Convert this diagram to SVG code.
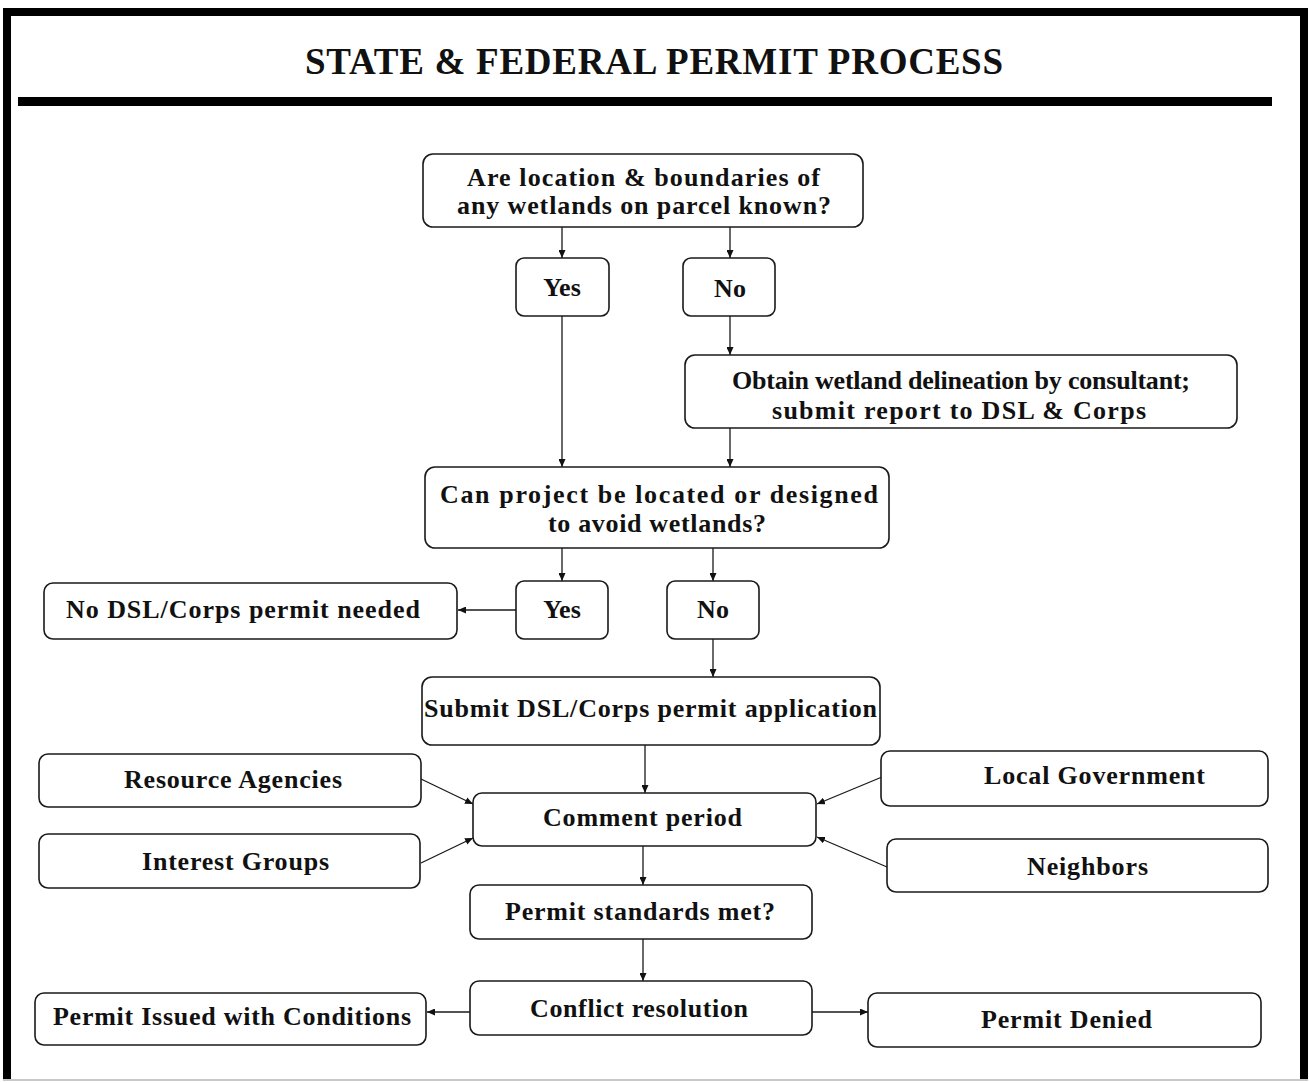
<svg xmlns="http://www.w3.org/2000/svg" width="1309" height="1083" viewBox="0 0 1309 1083">
<defs>
<style>
.box{fill:#fff;stroke:#1a1a1a;stroke-width:1.6}
.t{font-family:"Liberation Serif","Times New Roman",serif;font-weight:bold;font-size:26px;fill:#111}
.m{text-anchor:middle}
.title{font-family:"Liberation Serif","Times New Roman",serif;font-weight:bold;font-size:37px;fill:#111}
.c{fill:none;stroke:#1a1a1a;stroke-width:1.3;marker-end:url(#ah)}
</style>
<marker id="ah" viewBox="0 0 8 7" refX="8" refY="3.5" markerWidth="8" markerHeight="7" markerUnits="userSpaceOnUse" orient="auto">
<path d="M0,0 L8,3.5 L0,7 z" fill="#111"/>
</marker>
</defs>
<rect width="1309" height="1083" fill="#fff"/>
<g id="frame">
<path d="M7,1080 V12 H1304 V1080" fill="none" stroke="#000" stroke-width="8"/>
<line x1="3" y1="1080" x2="1308" y2="1080" stroke="#c8c8c8" stroke-width="2"/>
<rect x="18" y="97" width="1254" height="9" fill="#000"/>
<text class="title" x="305" y="74" textLength="698" lengthAdjust="spacing">STATE &amp; FEDERAL PERMIT PROCESS</text>
</g>
<g id="connectors">
<path class="c" d="M562,227 V258"/>
<path class="c" d="M730,227 V258"/>
<path class="c" d="M562,316 V467"/>
<path class="c" d="M730,316 V355"/>
<path class="c" d="M730,428 V467"/>
<path class="c" d="M562,548 V581"/>
<path class="c" d="M713,548 V581"/>
<path class="c" d="M516,610 H458"/>
<path class="c" d="M713,639 V677"/>
<path class="c" d="M645,745 V793"/>
<path class="c" d="M421,779 L473,804"/>
<path class="c" d="M421,863 L473,838"/>
<path class="c" d="M882,777 L817,804"/>
<path class="c" d="M887,867 L817,837"/>
<path class="c" d="M643,846 V885"/>
<path class="c" d="M643,939 V981"/>
<path class="c" d="M470,1012 H427"/>
<path class="c" d="M812,1012 H868"/>
</g>
<g id="q1">
<rect class="box" x="423" y="154" width="440" height="73" rx="10"/>
<text class="t" x="467" y="186" textLength="353" lengthAdjust="spacing">Are location &amp; boundaries of</text>
<text class="t" x="457" y="214" textLength="374" lengthAdjust="spacing">any wetlands on parcel known?</text>
</g>
<g id="yes1">
<rect class="box" x="516" y="258" width="93" height="58" rx="8"/>
<text class="t m" x="562" y="296">Yes</text>
</g>
<g id="no1">
<rect class="box" x="683" y="258" width="92" height="58" rx="8"/>
<text class="t m" x="730" y="297">No</text>
</g>
<g id="delineation">
<rect class="box" x="685" y="355" width="552" height="73" rx="10"/>
<text class="t" x="732" y="389" textLength="458" lengthAdjust="spacing">Obtain wetland delineation by consultant;</text>
<text class="t" x="772" y="419" textLength="374" lengthAdjust="spacing">submit report to DSL &amp; Corps</text>
</g>
<g id="q2">
<rect class="box" x="425" y="467" width="464" height="81" rx="10"/>
<text class="t" x="440" y="503" textLength="438" lengthAdjust="spacing">Can project be located or designed</text>
<text class="t" x="548" y="532" textLength="218" lengthAdjust="spacing">to avoid wetlands?</text>
</g>
<g id="no-permit">
<rect class="box" x="44" y="583" width="413" height="56" rx="9"/>
<text class="t" x="66" y="618" textLength="354" lengthAdjust="spacing">No DSL/Corps permit needed</text>
</g>
<g id="yes2">
<rect class="box" x="516" y="581" width="92" height="58" rx="8"/>
<text class="t m" x="562" y="618">Yes</text>
</g>
<g id="no2">
<rect class="box" x="667" y="581" width="92" height="58" rx="8"/>
<text class="t m" x="713" y="618">No</text>
</g>
<g id="submit">
<rect class="box" x="422" y="677" width="458" height="68" rx="10"/>
<text class="t" x="424" y="717" textLength="453" lengthAdjust="spacing">Submit DSL/Corps permit application</text>
</g>
<g id="resource">
<rect class="box" x="39" y="754" width="382" height="53" rx="9"/>
<text class="t" x="124" y="788" textLength="218" lengthAdjust="spacing">Resource Agencies</text>
</g>
<g id="comment">
<rect class="box" x="473" y="793" width="343" height="53" rx="9"/>
<text class="t" x="543" y="826" textLength="199" lengthAdjust="spacing">Comment period</text>
</g>
<g id="local">
<rect class="box" x="881" y="751" width="387" height="55" rx="9"/>
<text class="t" x="984" y="784" textLength="221" lengthAdjust="spacing">Local Government</text>
</g>
<g id="interest">
<rect class="box" x="39" y="834" width="381" height="54" rx="9"/>
<text class="t" x="142" y="870" textLength="187" lengthAdjust="spacing">Interest Groups</text>
</g>
<g id="neighbors">
<rect class="box" x="887" y="839" width="381" height="53" rx="9"/>
<text class="t" x="1027" y="875" textLength="121" lengthAdjust="spacing">Neighbors</text>
</g>
<g id="standards">
<rect class="box" x="470" y="885" width="342" height="54" rx="9"/>
<text class="t" x="505" y="920" textLength="270" lengthAdjust="spacing">Permit standards met?</text>
</g>
<g id="conflict">
<rect class="box" x="470" y="981" width="342" height="54" rx="9"/>
<text class="t" x="530" y="1017" textLength="218" lengthAdjust="spacing">Conflict resolution</text>
</g>
<g id="issued">
<rect class="box" x="35" y="993" width="391" height="52" rx="9"/>
<text class="t" x="53" y="1025" textLength="358" lengthAdjust="spacing">Permit Issued with Conditions</text>
</g>
<g id="denied">
<rect class="box" x="868" y="993" width="393" height="54" rx="9"/>
<text class="t" x="981" y="1028" textLength="171" lengthAdjust="spacing">Permit Denied</text>
</g>
</svg>
